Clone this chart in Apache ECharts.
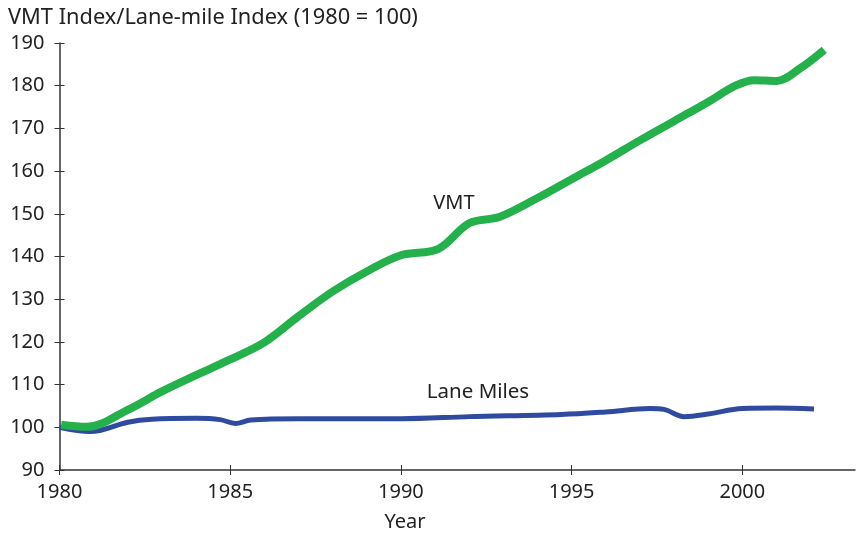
<!DOCTYPE html>
<html>
<head>
<meta charset="utf-8">
<script src="https://cdn.jsdelivr.net/npm/echarts@6/dist/echarts.min.js"></script>
<style>
  html, body { margin: 0; padding: 0; background: #fff; }
  #main { width: 859px; height: 533px; }
</style>
</head>
<body>
<div id="main"></div>
<script>
// VMT index (year, index)
var vmtYears = [1980.05, 1980.8, 1982, 1983, 1984, 1985, 1986, 1987, 1988, 1989, 1990, 1991.1, 1992, 1992.9, 1994, 1995, 1996, 1997, 1998, 1999, 1999.8, 2000.35, 2001, 2001.7, 2002.4];
var vmtValues = [100.6, 100.1, 104.1, 108.4, 112.2, 115.9, 119.9, 126.0, 131.8, 136.5, 140.3, 141.8, 147.8, 149.3, 153.7, 158.1, 162.5, 167.2, 171.7, 176.2, 180.0, 181.3, 181.1, 184.1, 188.4];

// Lane-mile index
var laneYears = [1980, 1980.9, 1982, 1982.7, 1984, 1984.7, 1985.15, 1985.6, 1987, 1990, 1992, 1994.7, 1996, 1997.3, 1997.7, 1998.3, 1999, 2000, 2001, 2002.1];
var laneValues = [100, 99.0, 101.2, 101.9, 102.1, 101.8, 100.9, 101.7, 102, 102, 102.5, 103, 103.6, 104.4, 104.2, 102.5, 103.1, 104.4, 104.5, 104.3];

var xTicks = [1980, 1985, 1990, 1995, 2000];

var chart = echarts.init(document.getElementById('main'));
var font = 'Noto Sans';
var axisColor = '#333';

function pairs(xs, ys) {
    return xs.map(function (x, i) { return [x, ys[i]]; });
}

var option = {
    animation: false,
    grid: { left: 59.5, right: 4, top: 43, bottom: 63, outerBoundsMode: 'none', containLabel: false },
    xAxis: [
        {
            type: 'value', min: 1980, max: 2003.3,
            splitLine: { show: false },
            axisLine: { lineStyle: { color: axisColor, width: 1.5 } },
            axisTick: { length: 5, customValues: xTicks, lineStyle: { color: axisColor } },
            axisLabel: {
                customValues: xTicks, margin: 12, fontFamily: font, fontSize: 20, color: '#222',
                formatter: function (v) { return String(v); }
            }
        },
        {
            type: 'value', min: 1980, max: 2003.3, position: 'bottom',
            splitLine: { show: false }, axisLine: { show: false },
            axisTick: { inside: true, length: 5, customValues: xTicks, lineStyle: { color: axisColor } },
            axisLabel: { show: false }
        }
    ],
    yAxis: [
        {
            type: 'value', min: 90, max: 190, interval: 10,
            splitLine: { show: false },
            axisLine: { show: true, lineStyle: { color: axisColor, width: 1.5 } },
            axisTick: { show: true, length: 5, lineStyle: { color: axisColor } },
            axisLabel: { margin: 15, fontFamily: font, fontSize: 20, color: '#222' }
        },
        {
            type: 'value', min: 90, max: 190, interval: 10, position: 'left',
            splitLine: { show: false }, axisLine: { show: false },
            axisTick: { show: true, inside: true, length: 5, lineStyle: { color: axisColor } },
            axisLabel: { show: false }
        }
    ],
    graphic: [
        { type: 'text', x: 8, y: 18, style: { text: 'VMT Index/Lane-mile Index (1980 = 100)', fontFamily: font, fontSize: 21.8, fill: '#222', verticalAlign: 'middle' } },
        { type: 'text', x: 454, y: 203, style: { text: 'VMT', fontFamily: font, fontSize: 20, fill: '#222', align: 'center', verticalAlign: 'middle' } },
        { type: 'text', x: 478, y: 392, style: { text: 'Lane Miles', fontFamily: font, fontSize: 20.5, fill: '#222', align: 'center', verticalAlign: 'middle' } },
        { type: 'text', x: 405, y: 522, style: { text: 'Year', fontFamily: font, fontSize: 20, fill: '#222', align: 'center', verticalAlign: 'middle' } }
    ],
    series: [
        {
            name: 'Lane Miles', type: 'line', smooth: 0.35, showSymbol: false,
            data: pairs(laneYears, laneValues),
            lineStyle: { color: '#2f4b9f', width: 5, cap: 'butt' }
        },
        {
            name: 'VMT', type: 'line', smooth: 0.35, showSymbol: false,
            data: pairs(vmtYears, vmtValues),
            lineStyle: { color: '#24b14c', width: 8, cap: 'butt' }
        }
    ]
};

option && chart.setOption(option);
</script>
</body>
</html>
